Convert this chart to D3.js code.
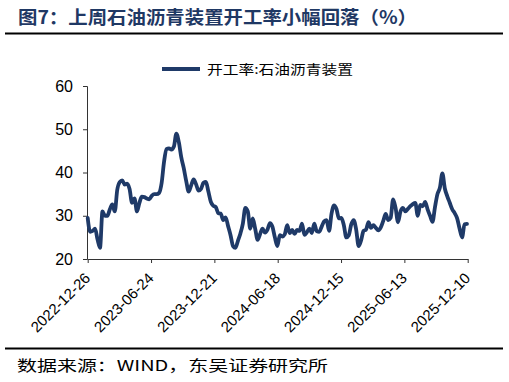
<!DOCTYPE html>
<html><head><meta charset="utf-8">
<script src="https://cdn.jsdelivr.net/npm/d3@7"></script>
<style>
html,body{margin:0;padding:0;background:#fff;}
svg{display:block;}
</style></head>
<body>
<svg id="c" width="509" height="382"></svg>
<script>
const titleText = "图7：上周石油沥青装置开工率小幅回落（%）";
const sourceText = "数据来源：WIND，东吴证券研究所";
const seriesName = "开工率:石油沥青装置";
const startDate = "2022-12-26"; // weekly observations
const values = [
29.5,26.3,26.5,27.0,24.5,22.6,31.0,30.0,30.0,31.5,
32.6,31.0,36.0,37.8,38.2,37.2,37.4,36.2,33.0,34.0,
31.0,33.0,34.4,34.3,34.0,33.8,34.6,35.0,35.0,35.3,
37.5,42.5,45.4,45.6,45.3,46.0,49.0,47.0,43.5,41.0,
38.0,35.6,37.0,38.4,37.3,35.8,36.2,37.6,37.8,35.6,
33.2,32.3,32.0,30.6,30.5,29.0,29.6,27.6,25.5,23.0,
22.6,24.2,25.9,28.2,31.8,31.0,27.0,29.4,27.0,24.4,
25.8,27.0,26.1,26.8,28.3,27.5,25.0,23.0,25.5,25.2,
25.7,27.8,26.0,26.7,25.8,26.7,26.5,28.2,25.6,26.2,
27.0,26.0,28.2,26.4,26.3,27.5,28.7,29.0,26.5,30.5,
32.4,31.6,29.4,29.5,27.8,25.0,25.5,28.0,29.0,26.8,
23.0,24.3,26.5,26.8,28.5,27.2,27.8,27.2,26.6,27.3,
28.8,30.4,29.0,29.5,33.8,31.8,28.5,31.0,31.8,31.0,
31.6,32.2,32.7,33.0,30.0,32.5,32.2,33.2,31.5,30.0,
28.6,32.0,35.0,36.5,39.8,36.3,34.5,33.0,31.5,30.6,
29.4,27.0,25.0,28.0,28.1
];
const yTicks = [20,30,40,50,60];
const xTickLabels = ["2022-12-26","2023-06-24","2023-12-21","2024-06-18","2024-12-15","2025-06-13","2025-12-10"];

const parse = d3.timeParse("%Y-%m-%d");
const fmt = d3.timeFormat("%Y-%m-%d");
const t0 = parse(startDate);
const data = values.map((v,i)=>({date:d3.timeDay.offset(t0, 7*i), value:v}));
const xTicks = xTickLabels.map(parse);

const svg = d3.select("#c");
const navy = "#1f3864";
const lineColor = "#1f3a68";

// title
svg.append("text").attr("x",18).attr("y",24)
  .attr("font-family","'Noto Sans CJK SC', sans-serif").attr("font-weight","bold")
  .attr("font-size",18).attr("fill",navy)
  .attr("textLength",399).attr("lengthAdjust","spacingAndGlyphs")
  .text(titleText);
svg.append("line").attr("x1",5).attr("x2",503).attr("y1",33.5).attr("y2",33.5)
  .attr("stroke","#000").attr("stroke-width",2);

const x = d3.scaleTime().domain([xTicks[0], xTicks[xTicks.length-1]]).range([87.7,467.7]);
const y = d3.scaleLinear().domain([20,60]).range([259,86]);

// y axis
const ya = svg.append("g").attr("transform","translate(87,0)")
  .call(d3.axisLeft(y).tickValues(yTicks).tickSize(4).tickPadding(10).tickFormat(d3.format("d")));
ya.select(".domain").attr("stroke","#333");
ya.selectAll(".tick line").attr("stroke","#333");
ya.selectAll("text").attr("font-family","'Liberation Sans', Arial, sans-serif").attr("font-size",16).attr("fill","#000");

// x axis
const xa = svg.append("g").attr("transform","translate(0,259)")
  .call(d3.axisBottom(x).tickValues(xTicks).tickSize(4).tickSizeOuter(0).tickFormat(fmt));
xa.select(".domain").attr("stroke","#333");
xa.selectAll(".tick line").attr("stroke","#333");
xa.selectAll("text")
  .attr("font-family","'Liberation Sans', Arial, sans-serif").attr("font-size",15).attr("fill","#000")
  .attr("text-anchor","end").attr("x",0).attr("y",0).attr("dy",0)
  .attr("transform","translate(3,20) rotate(-45)");

// line
const line = d3.line().x(d=>x(d.date)).y(d=>y(d.value)).curve(d3.curveMonotoneX);
svg.append("path").datum(data).attr("d",line)
  .attr("fill","none").attr("stroke",lineColor).attr("stroke-width",3.8)
  .attr("stroke-linejoin","round").attr("stroke-linecap","round");

// legend
svg.append("line").attr("x1",162).attr("x2",200).attr("y1",69).attr("y2",69)
  .attr("stroke",lineColor).attr("stroke-width",3.8);
svg.append("text").attr("x",207).attr("y",74)
  .attr("font-family","'Noto Sans CJK SC', sans-serif").attr("font-size",13).attr("fill","#000")
  .attr("textLength",146).attr("lengthAdjust","spacingAndGlyphs")
  .text(seriesName);

// bottom rule and source
svg.append("line").attr("x1",5).attr("x2",503).attr("y1",348.5).attr("y2",348.5)
  .attr("stroke","#000").attr("stroke-width",2);
svg.append("text").attr("x",17).attr("y",371)
  .attr("font-family","'Noto Sans CJK SC', sans-serif").attr("font-size",15).attr("fill","#000")
  .attr("textLength",311).attr("lengthAdjust","spacingAndGlyphs")
  .text(sourceText);
</script>
</body></html>
